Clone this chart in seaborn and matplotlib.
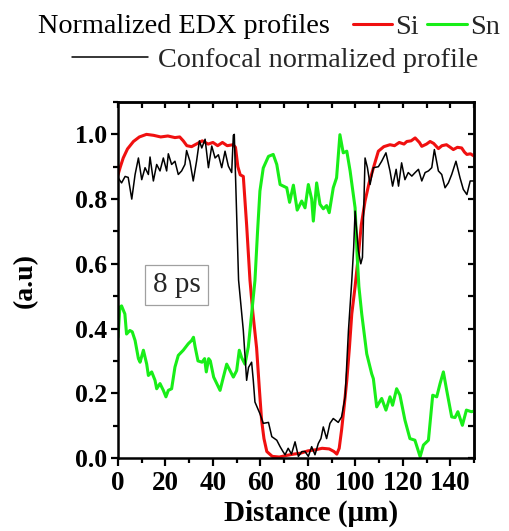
import matplotlib
matplotlib.use("Agg")
import matplotlib.pyplot as plt
from matplotlib.ticker import MultipleLocator
import seaborn as sns

# Normalized EDX profile of Si along the scan line
si_x = [0, 1, 2.2, 4, 6.5, 9, 12, 15, 18, 21, 24, 26, 27.5, 29, 31, 33, 35.5, 38, 40, 42,
        44, 46, 48.5, 49.5, 50.5, 51.5, 52.8, 54.2, 55.6, 56.8, 58.4, 59.5, 60.5, 61.5, 62.7,
        65, 68, 71, 74, 77, 80, 83, 86, 89, 91, 92.2, 93.2, 94.2, 95.3, 96.4, 97.5, 98.5,
        99.9, 101.2, 102.5, 104.1, 105.8, 107.6, 109.7, 112, 114.6, 116.5, 118.5, 120.5,
        121.7, 123.5, 125.2, 127, 128, 130, 131.5, 133, 135, 136.5, 138.4, 140, 141.3, 143,
        144.8, 146, 147, 148.5, 150]
si_y = [0.875, 0.9, 0.927, 0.955, 0.978, 0.992, 1.0, 0.997, 0.992, 0.995, 0.99, 0.992, 0.98,
        0.965, 0.962, 0.97, 0.98, 0.97, 0.975, 0.965, 0.975, 0.965, 0.968, 0.96, 0.9, 0.875,
        0.87, 0.72, 0.55, 0.45, 0.34, 0.22, 0.117, 0.06, 0.02, 0.005, 0.003, 0.008, 0.012,
        0.015, 0.022, 0.025, 0.03, 0.028, 0.02, 0.012, 0.03, 0.086, 0.16, 0.24, 0.34, 0.445,
        0.53, 0.62, 0.72, 0.794, 0.85, 0.896, 0.948, 0.962, 0.968, 0.965, 0.975, 0.97,
        0.978, 0.98, 0.989, 0.975, 0.963, 0.97, 0.978, 0.972, 0.956, 0.965, 0.968, 0.96,
        0.953, 0.96, 0.958, 0.945, 0.938, 0.94, 0.933]

# Normalized EDX profile of Sn along the scan line
sn_x = [0, 0.8, 1.5, 2.9, 3.6, 5, 6, 7.2, 8.6, 9.3, 10.7, 12.1, 12.8, 14.2, 15.6, 16.3, 17.7,
        19.1, 20.2, 21.2, 22.6, 24, 25.4, 27.5, 29.6, 31, 31.8, 32.5, 33.7, 35.4, 36.5, 37.2,
        38.2, 38.9, 40.3, 43, 44.4, 45.8, 47.2, 48.6, 50, 51.1, 52.1, 53.5, 54.9, 56.3, 57.7,
        58.8, 59.8, 61.2, 63.4, 65.4, 66.9, 68.3, 69.7, 71.1, 72.3, 73.9, 75.5, 77.4, 78.8,
        80.2, 81.6, 82.3, 83.7, 85.1, 86.5, 87.9, 89, 90.7, 92.1, 93.5, 94.9, 96.4, 97.8,
        99.9, 100.8, 101.5, 102.7, 104.8, 106.9, 107.6, 109, 111.1, 112.9, 114.6, 115.7,
        117.4, 118.8, 120.9, 123, 125.1, 127.3, 128.7, 130.8, 132.6, 134.3, 135.7, 137.1,
        138.5, 140.6, 142, 143.2, 145.1, 146.8, 148.9, 150]
sn_y = [0.373, 0.466, 0.47, 0.445, 0.383, 0.394, 0.39, 0.363, 0.307, 0.296, 0.333, 0.29, 0.255,
        0.266, 0.24, 0.214, 0.23, 0.209, 0.189, 0.209, 0.214, 0.281, 0.317, 0.333, 0.353,
        0.363, 0.373, 0.343, 0.3, 0.296, 0.307, 0.266, 0.307, 0.3, 0.25, 0.209, 0.25, 0.29,
        0.27, 0.25, 0.27, 0.333, 0.31, 0.29, 0.343, 0.445, 0.548, 0.7, 0.825, 0.896, 0.932,
        0.938, 0.907, 0.845, 0.84, 0.835, 0.79, 0.843, 0.766, 0.794, 0.773, 0.845, 0.8,
        0.732, 0.85, 0.784, 0.77, 0.78, 0.758, 0.835, 0.866, 0.999, 0.943, 0.948, 0.887,
        0.773, 0.62, 0.53, 0.445, 0.322, 0.26, 0.245, 0.158, 0.184, 0.148, 0.189, 0.163,
        0.214, 0.194, 0.117, 0.06, 0.055, 0.004, 0.04, 0.055, 0.194, 0.189, 0.23, 0.266,
        0.209, 0.127, 0.125, 0.143, 0.101, 0.148, 0.143, 0.145]

# Confocal normalized profile
cf_x = [0, 1.5, 3, 4.3, 5.8, 7.2, 8.6, 10, 11.4, 12.8, 13.5, 14.9, 16.3, 17.7, 19.1, 20.5,
        21.2, 22.6, 24, 25.4, 26.8, 28.2, 28.9, 30.3, 31.7, 33.1, 34.3, 35.3, 36.7, 38.1,
        39.5, 40.9, 42.3, 43.7, 45.1, 46.5, 47.9, 48.6, 49.0, 50.0, 50.8, 52.8, 54.2, 55.0,
        56.3, 57.0, 57.7, 59.8, 61.2, 63.4, 64.8, 66.9, 68.3, 69.5, 70.4, 71.7, 73.1, 74.6,
        76, 77.5, 78.8, 80.2, 81.6, 83, 84.4, 85.5, 86.5, 87.9, 89.3, 90.7, 92.8, 94.2,
        95.7, 97.1, 98.5, 99.3, 99.9, 100.6, 101.3, 102.3, 103, 104.1, 105.1, 106.2, 107.6,
        109.7, 111.1, 112.9, 114.6, 115.7, 117.2, 118.2, 119.5, 120.9, 122.3, 123.8, 125.2,
        126.6, 128, 129.4, 130.8, 132.2, 133.3, 135, 136.4, 137.8, 139.2, 140.6, 142.4,
        144.1, 145.5, 147, 148.4, 150]
cf_y = [0.866, 0.85, 0.87, 0.867, 0.8, 0.876, 0.927, 0.86, 0.897, 0.876, 0.93, 0.856, 0.907,
        0.887, 0.927, 0.887, 0.94, 0.907, 0.917, 0.876, 0.887, 0.907, 0.95, 0.917, 0.856,
        0.917, 0.98, 0.958, 0.985, 0.897, 0.964, 0.927, 0.937, 0.897, 0.948, 0.902, 0.882,
        0.997, 1.0, 0.75, 0.55, 0.394, 0.24, 0.28, 0.296, 0.24, 0.173, 0.137, 0.107, 0.11,
        0.066, 0.055, 0.035, 0.02, 0.01, 0.03, 0.012, 0.05, 0.005, 0.02, 0.02, 0.005, 0.035,
        0.01, 0.045, 0.06, 0.096, 0.06, 0.107, 0.122, 0.11, 0.127, 0.189, 0.394, 0.548, 0.65,
        0.763, 0.70, 0.64, 0.6, 0.62, 0.927, 0.897, 0.845, 0.897, 0.9, 0.917, 0.943, 0.887,
        0.84, 0.892, 0.84, 0.912, 0.86, 0.882, 0.871, 0.882, 0.892, 0.856, 0.882, 0.887,
        0.897, 0.953, 0.887, 0.876, 0.835, 0.85, 0.876, 0.917, 0.866, 0.83, 0.814, 0.856,
        0.856]

x_ticks = [0, 20, 40, 60, 80, 100, 120, 140]
y_ticks = [0.0, 0.2, 0.4, 0.6, 0.8, 1.0]

RED = "#f01010"
GREEN = "#18ee18"

sns.set_theme(style="ticks")
plt.rcParams["font.family"] = ["Liberation Serif", "DejaVu Serif"]
plt.rcParams["axes.linewidth"] = 1.8

fig = plt.figure(figsize=(5.09, 5.31), dpi=100)
ax = fig.add_axes([118 / 509, 73 / 531, 356 / 509, 356 / 531])

sns.lineplot(x=si_x, y=si_y, color=RED, lw=2.2, estimator=None, sort=False, ax=ax)
sns.lineplot(x=sn_x, y=sn_y, color=GREEN, lw=2.2, estimator=None, sort=False, ax=ax)
sns.lineplot(x=cf_x, y=cf_y, color="black", lw=1.1, estimator=None, sort=False, ax=ax)
si_line, sn_line, cf_line = ax.lines[0], ax.lines[1], ax.lines[2]

ax.set_xlim(0, 150)
ax.set_ylim(0, 1.1)
ax.set_xticks(x_ticks)
ax.set_xticklabels([str(t) for t in x_ticks])
ax.set_yticks(y_ticks)
ax.set_yticklabels([f"{t:.1f}" for t in y_ticks])
ax.xaxis.set_minor_locator(MultipleLocator(10))
ax.yaxis.set_minor_locator(MultipleLocator(0.1))

for lab in ax.get_xticklabels():
    lab.set_fontsize(19.5)
    lab.set_fontweight("bold")
for lab in ax.get_yticklabels():
    lab.set_fontsize(18.5)
    lab.set_fontweight("bold")

ax.tick_params(axis="x", which="major", direction="out", length=6, width=1.6, pad=3, colors="black")
ax.tick_params(axis="x", which="minor", direction="out", length=3.5, width=1.6, colors="black")
ax.tick_params(axis="y", which="major", direction="out", length=5, width=1.6, pad=3, colors="black")
ax.tick_params(axis="y", which="minor", direction="out", length=3.5, width=1.6, colors="black")
for side in ["top", "right", "left", "bottom"]:
    ax.spines[side].set_visible(True)
    ax.spines[side].set_color("black")
    ax.spines[side].set_linewidth(1.8)

# inward ticks on the top and right frame edges
top = ax.secondary_xaxis("top")
top.set_xticks(list(range(0, 151, 10)))
top.tick_params(direction="in", length=4, width=1.6, labeltop=False, colors="black")
top.spines["top"].set_linewidth(1.8)
right = ax.secondary_yaxis("right")
right.set_yticks([i / 10 for i in range(0, 11)])
right.tick_params(direction="in", length=4, width=1.6, labelright=False, colors="black")
right.spines["right"].set_linewidth(1.8)

ax.set_xlabel("Distance (μm)", fontsize=21, fontweight="bold", color="black")
ax.xaxis.set_label_coords(0.542, -0.118)
ax.set_ylabel("(a.u)", fontsize=20, fontweight="bold", color="black")
ax.yaxis.set_label_coords(-0.225, 0.5)

ax.text(24.6, 0.534, "8 ps", fontsize=21, ha="center", va="center",
        bbox=dict(boxstyle="square,pad=0.25", fc="white", ec="#a0a0a0", lw=0.9))

# legend rows above the frame
fig.text(38 / 509, 1 - 33 / 531, "Normalized EDX profiles", fontsize=20.3,
         ha="left", va="baseline", color="black")
fig.legend([si_line, sn_line], ["Si", "Sn"], ncol=2, loc="center left",
           bbox_to_anchor=(353 / 509, 1 - 27 / 531), bbox_transform=fig.transFigure,
           frameon=False, fontsize=20.3, borderpad=0, borderaxespad=0,
           handlelength=1.4, handletextpad=0.1, columnspacing=0.3)
fig.legend([cf_line], ["Confocal normalized profile"], loc="center left",
           bbox_to_anchor=(72 / 509, 1 - 60 / 531), bbox_transform=fig.transFigure,
           frameon=False, fontsize=20.3, borderpad=0, borderaxespad=0,
           handlelength=2.7, handletextpad=0.36)

fig.savefig("out.png", dpi=100)
